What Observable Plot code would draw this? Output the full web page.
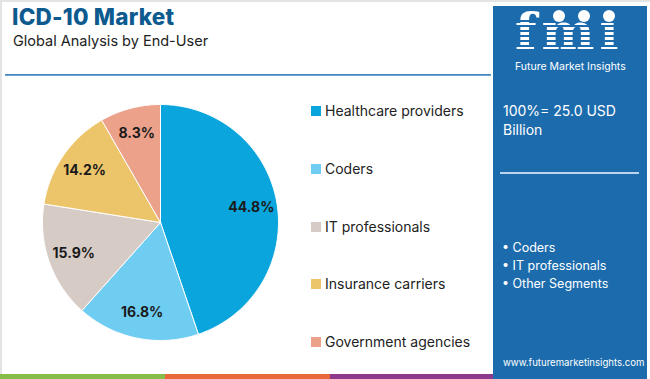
<!DOCTYPE html>
<html>
<head>
<meta charset="utf-8">
<script src="https://cdn.jsdelivr.net/npm/d3@7"></script>
<script src="https://cdn.jsdelivr.net/npm/@observablehq/plot@0.6"></script>
<style>
  body { margin: 0; font-family: Inter, "Open Sans", sans-serif; }
  #wrap { position: relative; width: 650px; height: 379px; overflow: hidden; background: #fff; }
  .abs { position: absolute; white-space: nowrap; }
  #title { left: 12px; top: 3px; font-size: 22.5px; font-weight: 800; color: #0d5a8f; letter-spacing: 0.2px; }
  #subtitle { left: 13px; top: 32px; font-size: 14.5px; color: #222; }
  #rule { left: 5px; top: 74px; width: 486px; height: 2px; background: linear-gradient(#2f78b8, #7fb2de); }
  #panel { left: 493px; top: 6px; width: 154px; height: 373px; background: #1c6cad; }
  .leg { font-size: 14px; color: #222; }
  .sw { position: absolute; width: 10px; height: 10px; }
  .ptxt { color: #fff; }
</style>
</head>
<body>
<div id="wrap"></div>
<script>
const categories = ["Healthcare providers", "Coders", "IT professionals", "Insurance carriers", "Government agencies"];
const shares = [44.8, 16.8, 15.9, 14.2, 8.3];
const colors = ["#0aa5dc", "#6fcdf2", "#d7cbc6", "#ecc56b", "#eca18b"];
const title = "ICD-10 Market";
const subtitle = "Global Analysis by End-User";
const totalText = ["100%= 25.0 USD", "Billion"];
const bullets = ["Coders", "IT professionals", "Other Segments"];
const url = "www.futuremarketinsights.com";
const stripeColors = ["#86bd48", "#e8683c", "#8e3a8c"];

const wrap = document.getElementById("wrap");
function add(html, cls, style) {
  const d = document.createElement("div");
  d.className = "abs " + (cls || "");
  if (style) d.setAttribute("style", style);
  d.innerHTML = html;
  wrap.appendChild(d);
  return d;
}
// frame borders
add("", "", "left:0;top:0;width:650px;height:2px;background:#e4e4e4");
add("", "", "left:0;top:0;width:2px;height:379px;background:#e4e4e4");
add(title, "", "").id = "title";
add(subtitle, "", "").id = "subtitle";
add("", "", "").id = "rule";
// bottom stripe
stripeColors.forEach((c, i) => add("", "", `left:${i*165}px;top:374px;width:165px;height:5px;background:${c}`));
// panel
add("", "", "").id = "panel";
// logo
add("fmi", "ptxt", "left:515px;top:10px;font-family:'DejaVu Serif',serif;font-weight:bold;font-size:50px;letter-spacing:5px;line-height:44px");
for (let k = 0; k < 7; k++) add("", "", `left:512px;top:${20 + k*5}px;width:125px;height:1.5px;background:#1c6cad`);
[[559, 16], [584, 16], [609, 16]].forEach(([x, y]) => add("", "", `left:${x-6}px;top:${y-6}px;width:12px;height:12px;border-radius:50%;background:#fff`));
add("Future Market Insights", "ptxt", "left:515px;top:61px;font-size:10.5px;line-height:11px");
add(totalText[0], "ptxt", "left:503px;top:102px;font-size:14px");
add(totalText[1], "ptxt", "left:503px;top:121px;font-size:14px");
add("", "", "left:500px;top:172px;width:139px;height:2px;background:#b9d4ec");
bullets.forEach((b, i) => add("• " + b, "ptxt", `left:502px;top:${240 + i*18}px;font-size:12.5px`));
add(url, "ptxt", "left:503px;top:357px;font-size:9.6px");

// legend
categories.forEach((c, i) => {
  const y = 111 + i * 57.8;
  add("", "sw", `left:311px;top:${y-5}px;background:${colors[i]}`);
  add(c, "leg", `left:325px;top:${y-9}px`);
});

// pie geometry via d3.pie, drawn through Plot scales
const data = categories.map((c, i) => ({ name: c, value: shares[i] }));
const arcs = d3.pie().sort(null).value(d => d.value)(data);
const pts = [];
arcs.forEach(a => {
  pts.push({ name: a.data.name, x: 0, y: 0 });
  const n = Math.max(2, Math.ceil((a.endAngle - a.startAngle) / 0.02));
  for (let k = 0; k <= n; k++) {
    const t = a.startAngle + (a.endAngle - a.startAngle) * k / n;
    pts.push({ name: a.data.name, x: Math.sin(t), y: Math.cos(t) });
  }
  pts.push({ name: a.data.name, x: 0, y: 0 });
});
const labels = arcs.map(a => {
  const m = (a.startAngle + a.endAngle) / 2;
  return { x: 0.78 * Math.sin(m), y: 0.78 * Math.cos(m), text: a.data.value.toFixed(1) + "%" };
});
const R = 118, cx = 150, cy = 130;
const chart = Plot.plot({
  width: 300, height: 260,
  margin: 0,
  x: { domain: [-1, 1], range: [cx - R, cx + R], axis: null },
  y: { domain: [-1, 1], range: [cy + R, cy - R], axis: null },
  color: { domain: categories, range: colors },
  style: { background: "transparent", overflow: "visible" },
  marks: [
    Plot.line(pts, { x: "x", y: "y", z: "name", fill: "name", stroke: "#fff", strokeWidth: 1, curve: "linear-closed" }),
    Plot.text(labels, { x: "x", y: "y", text: "text", fontSize: 14, fontWeight: "bold", fill: "#1a1a1a", fontFamily: "Inter, sans-serif" })
  ]
});
const holder = add("", "", "left:10px;top:92px");
holder.appendChild(chart);
</script>
</body>
</html>
